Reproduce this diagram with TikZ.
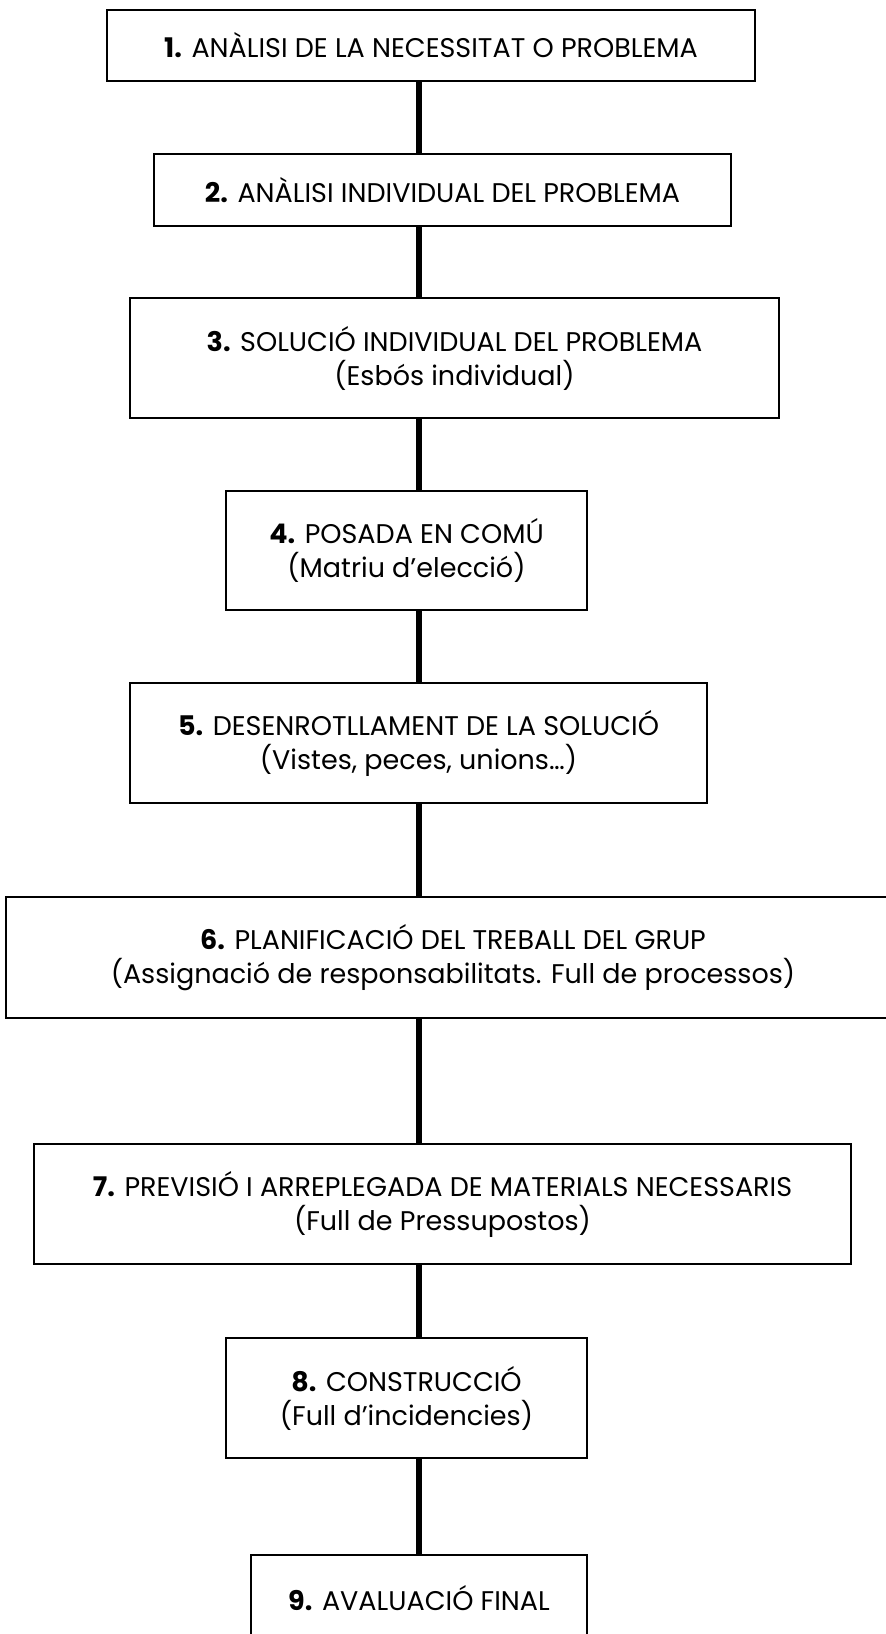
\documentclass[tikz,border=0pt]{standalone}
\usepackage{fontspec}
\setmainfont{Poppins}
\usepackage{tikz}
\usetikzlibrary{positioning}

\tikzset{
  stepbox/.style={draw=black,line width=2.2pt,fill=white,inner sep=0pt,align=center},
  spine/.style={line width=6pt,black}
}

\begin{document}
\begin{tikzpicture}[x=1pt,y=-1pt,font=\fontsize{27}{34}\selectfont]
  \useasboundingbox (0,0) rectangle (886,1634);
  \coordinate (sp) at (419,0);
  % boxes: number/centre x/centre y/width/height/text
  \foreach \n/\cx/\cy/\w/\h/\txt in {
    1/431/45.5/648/71/{\textbf{1.} ANÀLISI DE LA NECESSITAT O PROBLEMA},
    2/442.5/190/577/72/{\textbf{2.} ANÀLISI INDIVIDUAL DEL PROBLEMA},
    3/454.5/358/649/120/{\textbf{3.} SOLUCIÓ INDIVIDUAL DEL PROBLEMA\\(Esbós individual)},
    4/406.5/550.5/361/119/{\textbf{4.} POSADA EN COMÚ\\(Matriu d’elecció)},
    5/418.5/743/577/120/{\textbf{5.} DESENROTLLAMENT DE LA SOLUCIÓ\\(Vistes, peces, unions…)},
    6/453/957.5/894/121/{\textbf{6.} PLANIFICACIÓ DEL TREBALL DEL GRUP\\(Assignació de responsabilitats. Full de processos)},
    7/442.5/1204/817/120/{\textbf{7.} PREVISIÓ I ARREPLEGADA DE MATERIALS NECESSARIS\\(Full de Pressupostos)},
    8/406.5/1398/361/120/{\textbf{8.} CONSTRUCCIÓ\\(Full d’incidencies)},
    9/419/1615/336/120/{\textbf{9.} AVALUACIÓ FINAL\\\mbox{}}} {
    \node[stepbox,minimum width=\w pt,minimum height=\h pt] (b\n) at (\cx,\cy) {\txt};
  }
  % connectors along the spine
  \foreach \a/\b in {1/2,2/3,3/4,4/5,5/6,6/7,7/8,8/9} {
    \draw[spine] (b\a.south -| sp) -- (b\b.north -| sp);
  }
\end{tikzpicture}
\end{document}
